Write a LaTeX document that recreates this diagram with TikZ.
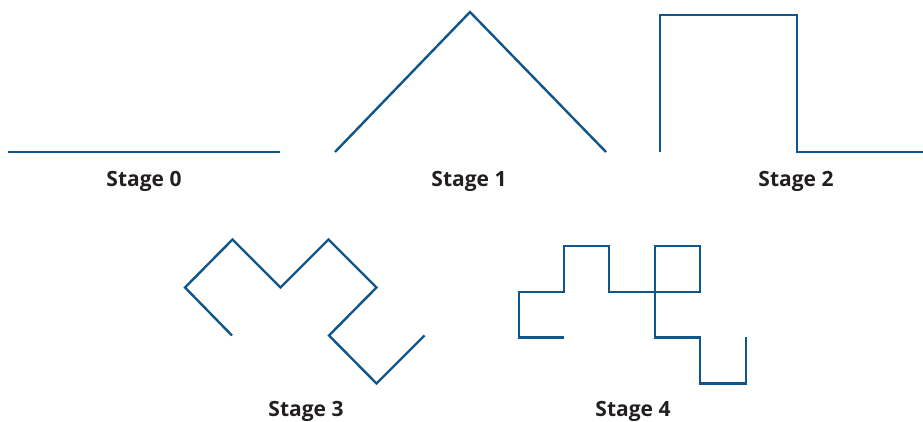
\documentclass[tikz,border=0pt]{standalone}
\usepackage{fontspec}
\setmainfont{Open Sans}
\definecolor{curveblue}{RGB}{14,86,140}
\definecolor{labelgray}{RGB}{35,31,32}
\begin{document}
\begin{tikzpicture}[x=1pt,y=-1pt,
  curve/.style={draw=curveblue,line width=2.4pt,line join=miter,line cap=butt},
  stagelabel/.style={anchor=base,inner sep=0pt,text=labelgray,font=\fontsize{21}{24}\selectfont\bfseries}]
\useasboundingbox (0,0) rectangle (923,422);
% Stage 0
\draw[curve] (8,152) -- (280,152);
\node[stagelabel] (l0) at (144,186.5) {Stage 0};
% Stage 1
\draw[curve] (335,152) -- (470,12) -- (606,152);
\node[stagelabel] (l1) at (469,186.5) {Stage 1};
% Stage 2
\draw[curve] (660,152) -- (660,15) -- (797,15) -- (797,152) -- (923,152);
\node[stagelabel] (l2) at (796,186.5) {Stage 2};
% Stage 3
\draw[curve] (232,335.5) -- (185,287.5) -- (232.5,239.5) -- (280.5,287.5) -- (328.5,239.5)
  -- (376.5,287.5) -- (329,335.5) -- (376.5,383.5) -- (424.5,335.5);
\node[stagelabel] (l3) at (306,416.5) {Stage 3};
% Stage 4
\draw[curve] (563.5,337.3) -- (519,337.3) -- (519,291.7) -- (564,291.7) -- (564,246)
  -- (609,246) -- (609,291.7) -- (700,291.7) -- (700,246) -- (654.7,246) -- (654.7,337.3)
  -- (700,337.3) -- (700,383.3) -- (745.7,383.3) -- (745.7,337.3);
\node[stagelabel] (l4) at (633,416.5) {Stage 4};
\end{tikzpicture}
\end{document}
